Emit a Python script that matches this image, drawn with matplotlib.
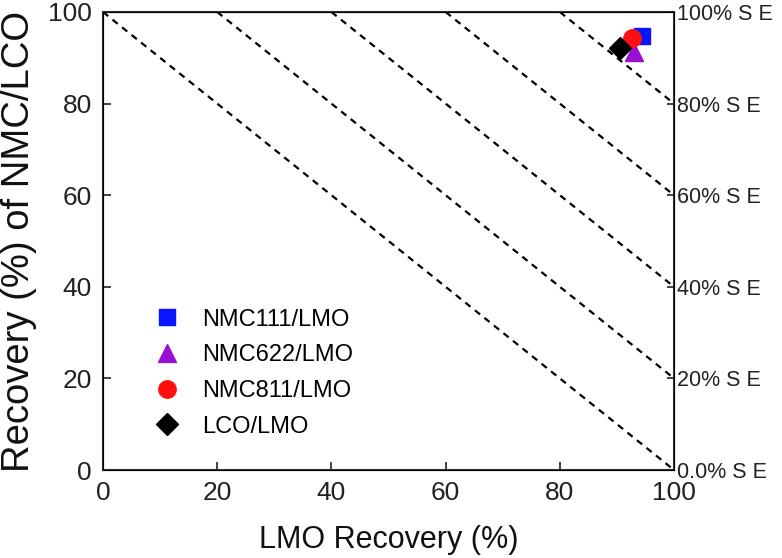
import matplotlib
matplotlib.use("Agg")
import matplotlib.pyplot as plt
import numpy as np

plt.rcParams['font.family'] = ['Liberation Sans', 'DejaVu Sans']

series = ["NMC111/LMO", "NMC622/LMO", "NMC811/LMO", "LCO/LMO"]
lmo_recovery = [94.4, 93.0, 92.6, 90.6]
nmc_recovery = [94.8, 91.3, 94.3, 92.2]
markers = ["s", "^", "o", "D"]
colors = ["#0a14ff", "#9a10d0", "#ff1010", "#000000"]
se_levels = [0, 20, 40, 60, 80, 100]
se_labels = ["0.0% S E", "20% S E", "40% S E", "60% S E", "80% S E", "100% S E"]
ticks = [0, 20, 40, 60, 80, 100]

fig = plt.figure(figsize=(7.82, 5.58), dpi=100)
ax = fig.add_axes([0.1317, 0.1577, 0.7303, 0.8208])

# iso separation-efficiency dashed lines: x + y = 100 + SE
for se in se_levels:
    x = np.array([se, 100])
    y = 100 + se - x
    ax.plot(x, y, linestyle=(0, (3, 2.5)), color='black', lw=1.6, zorder=1)

sizes = [12, 13, 12.5, 11.5]
for name, xv, yv, m, c, s in zip(series, lmo_recovery, nmc_recovery, markers, colors, sizes):
    ax.plot([xv], [yv], linestyle='none', marker=m, color=c, markersize=s,
            markeredgecolor=c, label=name, zorder=3)

ax.set_xlim(0, 100)
ax.set_ylim(0, 100)
ax.set_xticks(ticks)
ax.set_yticks(ticks)
ax.tick_params(direction='in', length=6, width=1.2, labelsize=19, pad=8, colors='#222222')
ax.tick_params(axis='x', pad=8)
ax.set_xlabel("LMO Recovery (%)", fontsize=22, labelpad=14, color='#111111')
ax.set_ylabel("Recovery (%) of NMC/LCO", fontsize=27.5, labelpad=8, color='#111111')
for sp in ax.spines.values():
    sp.set_linewidth(1.5)
    sp.set_color('#333333')

ax2 = ax.twinx()
ax2.set_ylim(0, 100)
ax2.set_yticks(se_levels)
ax2.set_yticklabels(se_labels)
ax2.tick_params(direction='in', length=5, width=1.2, labelsize=15.5, pad=2, colors='#222222')

leg = ax.legend(loc='lower left', bbox_to_anchor=(0.07, 0.05), frameon=False,
                fontsize=17, handletextpad=0.9, labelspacing=0.58, borderaxespad=0,
                handlelength=1.2)

fig.savefig("out.png", dpi=100)
